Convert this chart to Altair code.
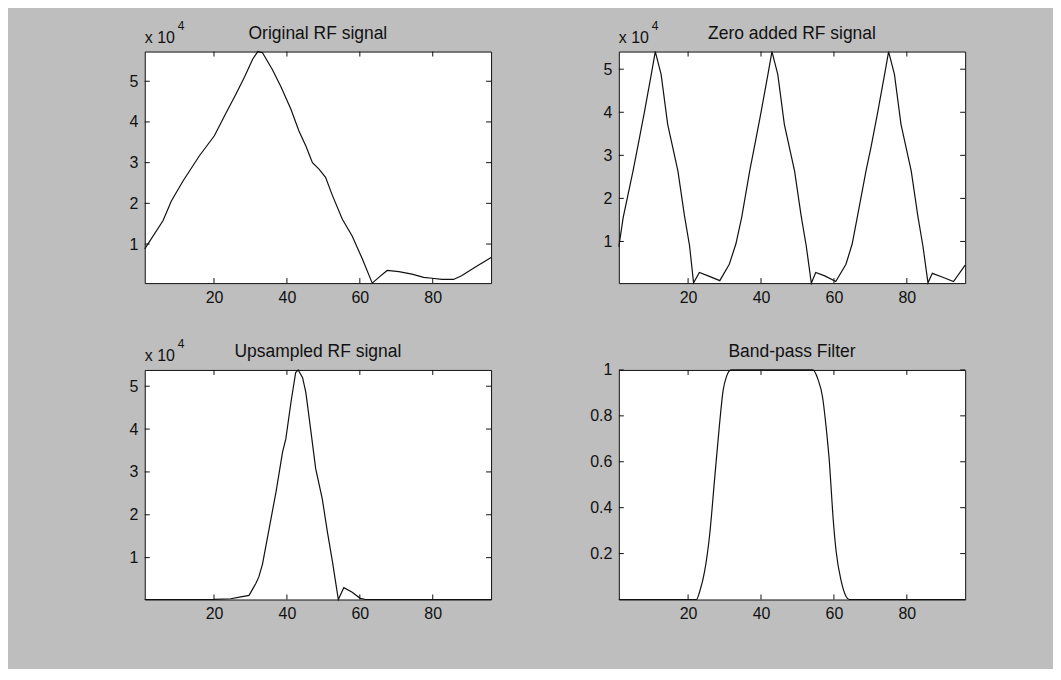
import altair as alt
import pandas as pd

# ---------------- data ----------------
X_TICKS = [20, 40, 60, 80]
X_DOMAIN = [1, 96]

P1_TITLE = "Original RF signal"
P1_X = [1, 6, 8.3, 11.5, 16, 20.1, 22.9, 26, 28.3, 30.6, 32, 33.3, 36, 38.3, 41.1,
        43.3, 45.2, 47, 48.8, 50.6, 52.5, 55.2, 57.9, 60.7, 63.4, 65.2, 67.5, 70.7,
        74.3, 77.5, 79.8, 82.5, 85.7, 87.9, 91.6, 96]
P1_Y = [8800, 15700, 20600, 25500, 31700, 36600, 41500, 46800, 50900, 55400, 57300,
        57000, 52900, 48800, 43100, 37800, 34100, 30000, 28400, 26400, 21900, 16100,
        12000, 6300, 400, 1800, 3500, 3200, 2600, 1800, 1600, 1300, 1300, 2200, 4300, 6700]
P1_YTICKS = [10000, 20000, 30000, 40000, 50000]

P2_TITLE = "Zero added RF signal"
P2_X = [1, 2.2, 4.9, 6.2, 8, 9.9, 11, 12.6, 14.4, 17.2, 19, 20.4, 21.5, 23.1, 25.5,
        28.7, 31.3, 33.1, 34.7, 36.9, 38.2, 40, 41.9, 43, 44.6, 46.4, 49.2, 51, 52.4,
        53.8, 55, 57.5, 60.5, 63.3, 65, 66.4, 68.8, 70.2, 72, 73.9, 75, 76.6, 78.4,
        81.2, 83, 84.4, 85.8, 87, 89.5, 92.8, 96]
P2_Y = [8800, 15600, 26400, 32000, 40000, 48800, 54100, 48800, 37200, 26400, 16000,
        9000, 400, 2800, 2000, 900, 4700, 9400, 15600, 26400, 32000, 40000, 48800,
        54100, 48800, 37200, 26400, 16000, 9000, 330, 2800, 2000, 700, 4700, 9400,
        15600, 26400, 32000, 40000, 48800, 54100, 48800, 37200, 26400, 16000, 9000,
        400, 2600, 1800, 700, 4500]
P2_YTICKS = [10000, 20000, 30000, 40000, 50000]

P3_TITLE = "Upsampled RF signal"
P3_X = [1, 10, 20, 24.6, 27, 29.6, 31.5, 32.3, 33.3, 34.6, 37, 38.8, 39.7, 41.1, 42.4,
        43.1, 44.3, 45.2, 46.5, 47.9, 49.7, 51.1, 52.5, 54.1, 55.6, 57.8, 60.1, 61.6,
        70, 80, 96]
P3_Y = [230, 230, 250, 400, 800, 1200, 4000, 5500, 8500, 14400, 25300, 34600, 37700,
        46200, 53200, 53800, 52000, 48500, 40000, 30700, 23700, 16000, 9000, 230, 3000,
        2000, 500, 230, 230, 230, 230]
P3_YTICKS = [10000, 20000, 30000, 40000, 50000]

P4_TITLE = "Band-pass Filter"
P4_X = [1, 22.3, 23.2, 24.5, 25.9, 27.3, 28.6, 29.6, 30.5, 31.8, 54.2, 55.6, 56.9,
        57.8, 58.8, 59.7, 60.6, 62, 63.3, 64.2, 96]
P4_Y = [0, 0, 0.036, 0.12, 0.28, 0.53, 0.76, 0.91, 0.97, 1.0, 1.0, 0.96, 0.88, 0.76,
        0.59, 0.37, 0.21, 0.08, 0.014, 0, 0]
P4_YTICKS = [0.2, 0.4, 0.6, 0.8, 1.0]

EXP_BASE = "x 10"
EXP_POWER = "4"

# ---------------- style ----------------
FONT = "Liberation Sans"
INK = "#111111"
BG = "#bebebe"
W = 347
H_TOP = 232
H_BOT = 230
TICK = 5


def panel(xs, ys, title, yticks, height, exponent, interp="linear"):
    df = pd.DataFrame({"x": xs, "y": ys})
    xsc = alt.Scale(domain=X_DOMAIN, nice=False, zero=False)
    ysc = alt.Scale(domain=[min(ys), max(ys)], nice=False, zero=False)
    if exponent:
        lab = "format(datum.value / 10000, '~g')"
    else:
        lab = "format(datum.value, '~g')"
    common = dict(ticks=False, tickSize=0, domain=False, grid=False, labelFont=FONT,
                  labelFontSize=16, labelColor=INK, title=None)
    xaxis = alt.Axis(values=X_TICKS, labelPadding=6.5, **common)
    yaxis = alt.Axis(values=yticks, labelExpr=lab, labelPadding=7, **common)
    line = alt.Chart(df).mark_line(color=INK, strokeWidth=1.2, interpolate=interp).encode(
        x=alt.X("x:Q", scale=xsc, axis=xaxis),
        y=alt.Y("y:Q", scale=ysc, axis=yaxis),
    )
    xt = pd.DataFrame({"x": X_TICKS})
    yt = pd.DataFrame({"y": yticks})
    rule = dict(color=INK, strokeWidth=1)
    t_bottom = alt.Chart(xt).mark_rule(**rule).encode(
        x=alt.X("x:Q", scale=xsc, axis=xaxis), y=alt.value(height), y2=alt.value(height - TICK))
    t_top = alt.Chart(xt).mark_rule(**rule).encode(
        x=alt.X("x:Q", scale=xsc, axis=xaxis), y=alt.value(0), y2=alt.value(TICK))
    t_left = alt.Chart(yt).mark_rule(**rule).encode(
        y=alt.Y("y:Q", scale=ysc, axis=yaxis), x=alt.value(0), x2=alt.value(TICK))
    t_right = alt.Chart(yt).mark_rule(**rule).encode(
        y=alt.Y("y:Q", scale=ysc, axis=yaxis), x=alt.value(W), x2=alt.value(W - TICK))
    ttl = alt.Chart(pd.DataFrame({"t": [title]})).mark_text(
        font=FONT, fontSize=17.5, color=INK, align="center", baseline="alphabetic"
    ).encode(text="t:N", x=alt.value(W / 2), y=alt.value(-13))
    layers = [line, t_bottom, t_top, t_left, t_right, ttl]
    if exponent:
        eb = alt.Chart(pd.DataFrame({"t": [EXP_BASE]})).mark_text(
            font=FONT, fontSize=16, color=INK, align="left", baseline="alphabetic"
        ).encode(text="t:N", x=alt.value(0), y=alt.value(-9))
        ep = alt.Chart(pd.DataFrame({"t": [EXP_POWER]})).mark_text(
            font=FONT, fontSize=12, color=INK, align="left", baseline="alphabetic"
        ).encode(text="t:N", x=alt.value(33), y=alt.value(-22))
        layers += [eb, ep]
    return alt.layer(*layers).properties(width=W, height=height)


p1 = panel(P1_X, P1_Y, P1_TITLE, P1_YTICKS, H_TOP, True)
p2 = panel(P2_X, P2_Y, P2_TITLE, P2_YTICKS, H_TOP, True)
p3 = panel(P3_X, P3_Y, P3_TITLE, P3_YTICKS, H_BOT, True)
p4 = panel(P4_X, P4_Y, P4_TITLE, P4_YTICKS, H_BOT, False, interp="monotone")

chart = alt.concat(
    p1, p2, p3, p4, columns=2, spacing={"row": 87, "column": 128}, bounds="flush"
).properties(
    padding={"left": 120, "top": 10, "right": 85, "bottom": 46},
    background=BG,
).configure_view(fill="white", stroke=INK, strokeWidth=1)

chart.save("out.html", embed_options={"renderer": "svg", "actions": False})
